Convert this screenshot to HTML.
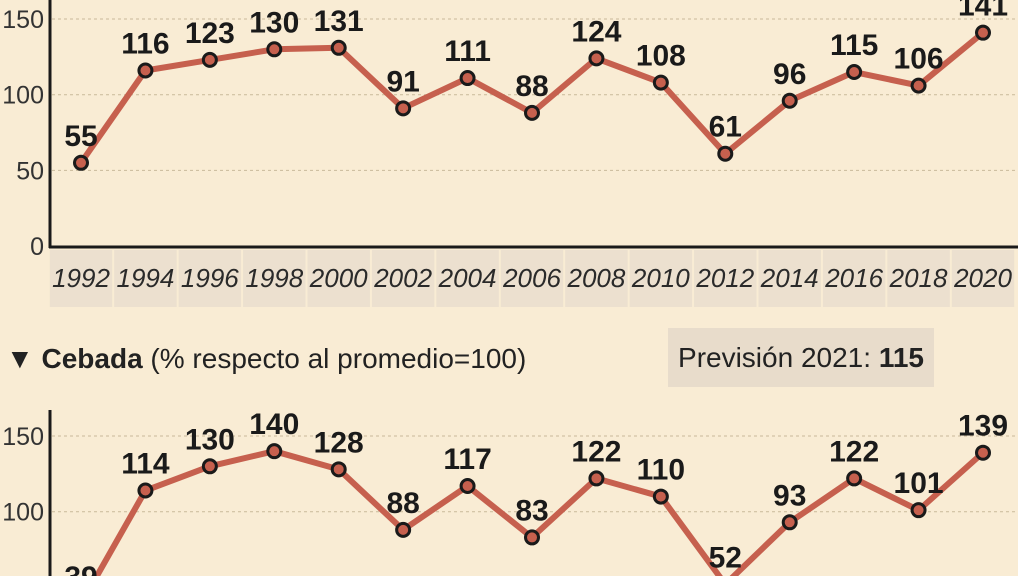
<!DOCTYPE html>
<html><head><meta charset="utf-8"><style>
body{margin:0;width:1024px;height:576px;overflow:hidden;background:#fff;}
svg{display:block;font-family:"Liberation Sans Narrow","Liberation Sans",sans-serif;}
</style></head><body>
<svg id="c" width="1024" height="576">
<rect x="0" y="0" width="1018" height="576" fill="#f9ecd4"/>
<g id="top"></g>
<g id="bot"></g>
<text x="6" y="368" font-size="28" fill="#222">▼ <tspan font-weight="bold">Cebada</tspan> (% respecto al promedio=100)</text>
<rect x="668" y="328" width="266" height="59" fill="#e8dccb"/>
<text x="801" y="367" font-size="28" fill="#222" text-anchor="middle">Previsión 2021: <tspan font-weight="bold">115</tspan></text>
</svg>
<script>
const years = ["1992","1994","1996","1998","2000","2002","2004","2006","2008","2010","2012","2014","2016","2018","2020"];
const topValues = [55,116,123,130,131,91,111,88,124,108,61,96,115,106,141];
const botValues = [39,114,130,140,128,88,117,83,122,110,52,93,122,101,139];
const yTicks = [0,50,100,150];
const NS="http://www.w3.org/2000/svg";
function mk(p,t,a){const e=document.createElementNS(NS,t);for(const k in a)e.setAttribute(k,a[k]);p.appendChild(e);return e;}
const x = i => 81 + i*(983-81)/(years.length-1);
function draw(g, vals, y0, showZero, axisTop, showX){
  const y = v => y0 - v*1.513;
  yTicks.forEach(t=>{
    if(t===0 && !showZero) return;
    if(t>0){const l=mk(g,'line',{x1:52,x2:1016,y1:y(t),y2:y(t),stroke:'#c9b99a','stroke-width':1,'stroke-dasharray':'3,3'});
    
    }
    const tx=mk(g,'text',{x:44,y:y(t)+9,'font-size':25,fill:'#333','text-anchor':'end'});tx.textContent=t;
    
    
  });
  const ax=mk(g,'line',{x1:50,x2:50,y1:axisTop,y2:showZero?y0+2:576,stroke:'#1a1a1a','stroke-width':3});
  
  
  if(showX){
    const step=(983-81)/(years.length-1);
    years.forEach((yr,i)=>{
      const r=mk(g,'rect',{x:x(i)-step/2+1,y:250,width:step-2,height:57,fill:'#ece0cf'});
      
      
      const t=mk(g,'text',{x:x(i),y:287,'font-size':26,'font-style':'italic',fill:'#2a2a2a','text-anchor':'middle'});t.textContent=yr;
      
      
    });
    const xa=mk(g,'line',{x1:49,x2:1018,y1:y0+1,y2:y0+1,stroke:'#1a1a1a','stroke-width':3});
    
    
  }
  const pl=mk(g,'polyline',{points:vals.map((v,i)=>x(i)+','+y(v)).join(' '),fill:'none',stroke:'#c6604e','stroke-width':6,'stroke-linejoin':'round'});
  
  
  vals.forEach((v,i)=>{
    const c=mk(g,'circle',{cx:x(i),cy:y(v),r:6.5,fill:'#c6604e',stroke:'#1a1a1a','stroke-width':3});
    
    
    const t=mk(g,'text',{x:x(i),y:y(v)-17,'font-size':30,'font-weight':'bold',fill:'#1a1a1a','text-anchor':'middle'});t.textContent=v;
    
    
  });
}
draw(document.getElementById('top'), topValues, 246, true, 0, true);
draw(document.getElementById('bot'), botValues, 663, false, 410, false);
</script>
</body></html>
